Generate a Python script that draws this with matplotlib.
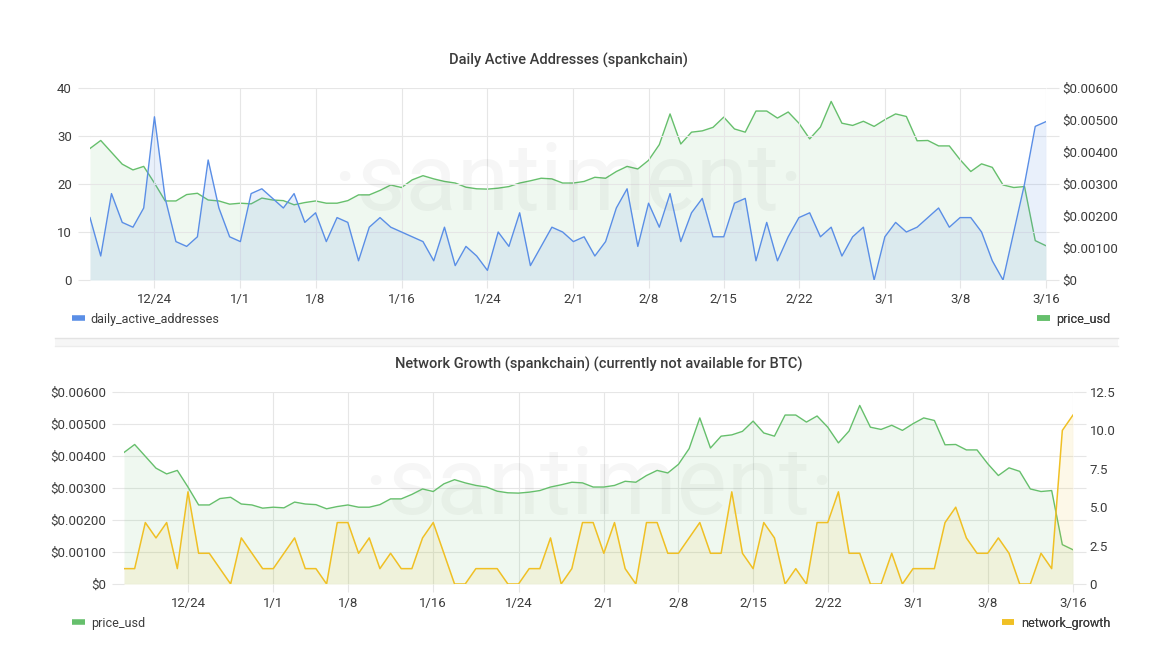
import matplotlib
matplotlib.use("Agg")
import matplotlib.pyplot as plt
from matplotlib.lines import Line2D
from matplotlib.patches import Rectangle
import numpy as np
import pandas as pd

plt.rcParams['font.family'] = ['Roboto', 'DejaVu Sans']

dates = pd.date_range('2019-12-18', '2020-03-16', freq='D')

daily_active_addresses = [
    13, 5, 18, 12, 11, 15, 34, 17, 8, 7, 9, 25, 15, 9,
    8, 18, 19, 17, 15, 18, 12, 14, 8, 13, 12, 4, 11, 13, 11, 10,
    9, 8, 4, 11, 3, 7, 5, 2, 10, 7, 14, 3, 7, 11, 10,
    8, 9, 5, 8, 15, 19, 7, 16, 11, 18, 8, 14, 17, 9, 9,
    16, 17, 4, 12, 4, 9, 13, 14, 9, 11, 5, 9, 11, 0,
    9, 12, 10, 11, 13, 15, 11, 13, 13, 10, 4, 0, 10, 20, 32, 33,
]

price_usd = [
    0.00411, 0.00436, 0.00399, 0.00362, 0.00344, 0.00355, 0.00303,
    0.00247, 0.00247, 0.00267, 0.00271, 0.00250, 0.00247, 0.00237,
    0.00240, 0.00238, 0.00256, 0.00250, 0.00248, 0.00235, 0.00242,
    0.00247, 0.00240, 0.00240, 0.00248, 0.00266, 0.00266, 0.00280,
    0.00297, 0.00289, 0.00313, 0.00326, 0.00316, 0.00308, 0.00303,
    0.00290, 0.00285, 0.00284, 0.00287, 0.00292, 0.00303, 0.00310,
    0.00318, 0.00316, 0.00303,
    0.00303, 0.00308, 0.00321, 0.00318, 0.00339, 0.00355, 0.00347,
    0.00374, 0.00423, 0.00519, 0.00425, 0.00462, 0.00466, 0.00477,
    0.00509, 0.00472, 0.00462, 0.00528, 0.00528, 0.00506, 0.00525,
    0.00490, 0.00441, 0.00478, 0.00558, 0.00490, 0.00483, 0.00496,
    0.00480,
    0.00501, 0.00519, 0.00511, 0.00435, 0.00436, 0.00419, 0.00419,
    0.00376, 0.00339, 0.00363, 0.00352, 0.00297, 0.00289, 0.00292,
    0.00123, 0.00107,
]

network_growth = [
    1, 1, 4, 3, 4, 1, 6, 2, 2, 1, 0, 3, 2, 1,
    1, 2, 3, 1, 1, 0, 4, 4, 2, 3, 1, 2, 1, 1, 3, 4,
    2, 0, 0, 1, 1, 1, 0, 0, 1, 1, 3, 0, 1, 4, 4,
    2, 4, 1, 0, 4, 4, 2, 2, 3, 4, 2, 2, 6, 2, 1,
    4, 3, 0, 1, 0, 4, 4, 6, 2, 2, 0, 0, 2, 0,
    1, 1, 1, 4, 5, 3, 2, 2, 3, 2, 0, 0, 2, 1, 10, 11,
]

tick_dates = ['2019-12-24', '2020-01-01', '2020-01-08', '2020-01-16', '2020-01-24',
              '2020-02-01', '2020-02-08', '2020-02-15', '2020-02-22', '2020-03-01',
              '2020-03-08', '2020-03-16']
tick_labels = ['12/24', '1/1', '1/8', '1/16', '1/24', '2/1', '2/8', '2/15',
               '2/22', '3/1', '3/8', '3/16']

BLUE = '#5a8ee6'
GREEN = '#66bf6c'
YELLOW = '#f0c024'
GRID = '#e6e6e6'
TEXT = '#3c3c3c'

W, H = 1174, 650
fig = plt.figure(figsize=(W / 100, H / 100), dpi=100)


def px_axes(x0, y0, x1, y1):
    return fig.add_axes([x0 / W, 1 - y1 / H, (x1 - x0) / W, (y1 - y0) / H])


def style(ax, twin):
    for a in (ax, twin):
        for s in a.spines.values():
            s.set_visible(False)
    ax.set_xlim(dates[0], dates[-1])
    ax.set_xticks(pd.to_datetime(tick_dates))
    ax.set_xticklabels(tick_labels)
    ax.grid(True, color=GRID, linewidth=0.8)
    ax.set_axisbelow(True)
    ax.tick_params(axis='x', length=6, color=GRID, labelsize=9.5, labelcolor=TEXT, pad=3)
    ax.tick_params(axis='y', left=True, right=True, length=9, color=GRID,
                   labelsize=9.5, labelcolor=TEXT, pad=4)
    twin.tick_params(axis='y', length=0, labelsize=9.5, labelcolor=TEXT, pad=12)


def usd(v, _):
    return '$0' if v == 0 else '${:.5f}'.format(v)


def legend(ax, color, label, x, y, side):
    h = Line2D([], [], color=color, linewidth=4, solid_capstyle='butt')
    loc = 'center left' if side == 'left' else 'center right'
    lg = ax.legend([h], [label], loc=loc, bbox_to_anchor=(x / W, 1 - y / H),
                   bbox_transform=fig.transFigure, frameon=False, fontsize=9,
                   handlelength=1.0, handletextpad=0.5, borderpad=0, borderaxespad=0)
    for t in lg.get_texts():
        t.set_color(TEXT)
    ax.add_artist(lg)


def watermark(ax):
    ax.text(0.5, 0.5, '\u00b7santiment\u00b7', transform=ax.transAxes, ha='center',
            va='center', fontsize=68, color='#000000', alpha=0.035, zorder=1)


# top panel
ax1 = px_axes(90, 88, 1046, 280)
ax1r = ax1.twinx()
ax1.set_zorder(ax1r.get_zorder() + 1)
ax1.patch.set_visible(False)
ax1r.plot(dates, price_usd, color=GREEN, linewidth=1)
ax1r.fill_between(dates, price_usd, color=GREEN, alpha=0.1, linewidth=0)
ax1.plot(dates, daily_active_addresses, color=BLUE, linewidth=1, zorder=3)
ax1.fill_between(dates, daily_active_addresses, color=BLUE, alpha=0.13, linewidth=0, zorder=2)
ax1.set_ylim(0, 40)
ax1.set_yticks([0, 10, 20, 30, 40])
ax1r.set_ylim(0, 0.006)
ax1r.set_yticks(np.arange(0, 0.0061, 0.001))
ax1r.yaxis.set_major_formatter(usd)
style(ax1, ax1r)
watermark(ax1)
ax1.set_title('Daily Active Addresses (spankchain)', fontsize=10.5, color=TEXT,
              fontweight='medium', pad=17)
legend(ax1, BLUE, 'daily_active_addresses', 72, 319, 'left')
legend(ax1, GREEN, 'price_usd', 1110, 319, 'right')

# separator between panels
fig.patches.append(Rectangle((55 / W, 1 - 346 / H), 1063 / W, 8 / H, transform=fig.transFigure,
                             facecolor='#f6f6f6', edgecolor='none'))
fig.lines.append(Line2D([55 / W, 1118 / W], [1 - 338 / H] * 2, transform=fig.transFigure,
                        color='#e3e3e3', linewidth=1))
fig.lines.append(Line2D([55 / W, 1118 / W], [1 - 346 / H] * 2, transform=fig.transFigure,
                        color='#ececec', linewidth=1))

# bottom panel
ax2 = px_axes(124, 392, 1073, 584)
ax2r = ax2.twinx()
ax2.plot(dates, price_usd, color=GREEN, linewidth=1, zorder=3)
ax2.fill_between(dates, price_usd, color=GREEN, alpha=0.1, linewidth=0, zorder=2)
ax2r.plot(dates, network_growth, color=YELLOW, linewidth=1.1, zorder=3)
ax2r.fill_between(dates, network_growth, color=YELLOW, alpha=0.1, linewidth=0, zorder=2)
ax2.set_ylim(0, 0.006)
ax2.set_yticks(np.arange(0, 0.0061, 0.001))
ax2.yaxis.set_major_formatter(usd)
ax2r.set_ylim(0, 12.5)
ax2r.set_yticks([0, 2.5, 5, 7.5, 10, 12.5])
ax2r.set_yticklabels(['0', '2.5', '5.0', '7.5', '10.0', '12.5'])
style(ax2, ax2r)
watermark(ax2)
ax2.set_title('Network Growth (spankchain) (currently not available for BTC)', fontsize=10.5,
              color=TEXT, fontweight='medium', pad=17)
legend(ax2r, GREEN, 'price_usd', 72, 623, 'left')
legend(ax2r, YELLOW, 'network_growth', 1110, 623, 'right')

fig.savefig('out.png', dpi=100)
